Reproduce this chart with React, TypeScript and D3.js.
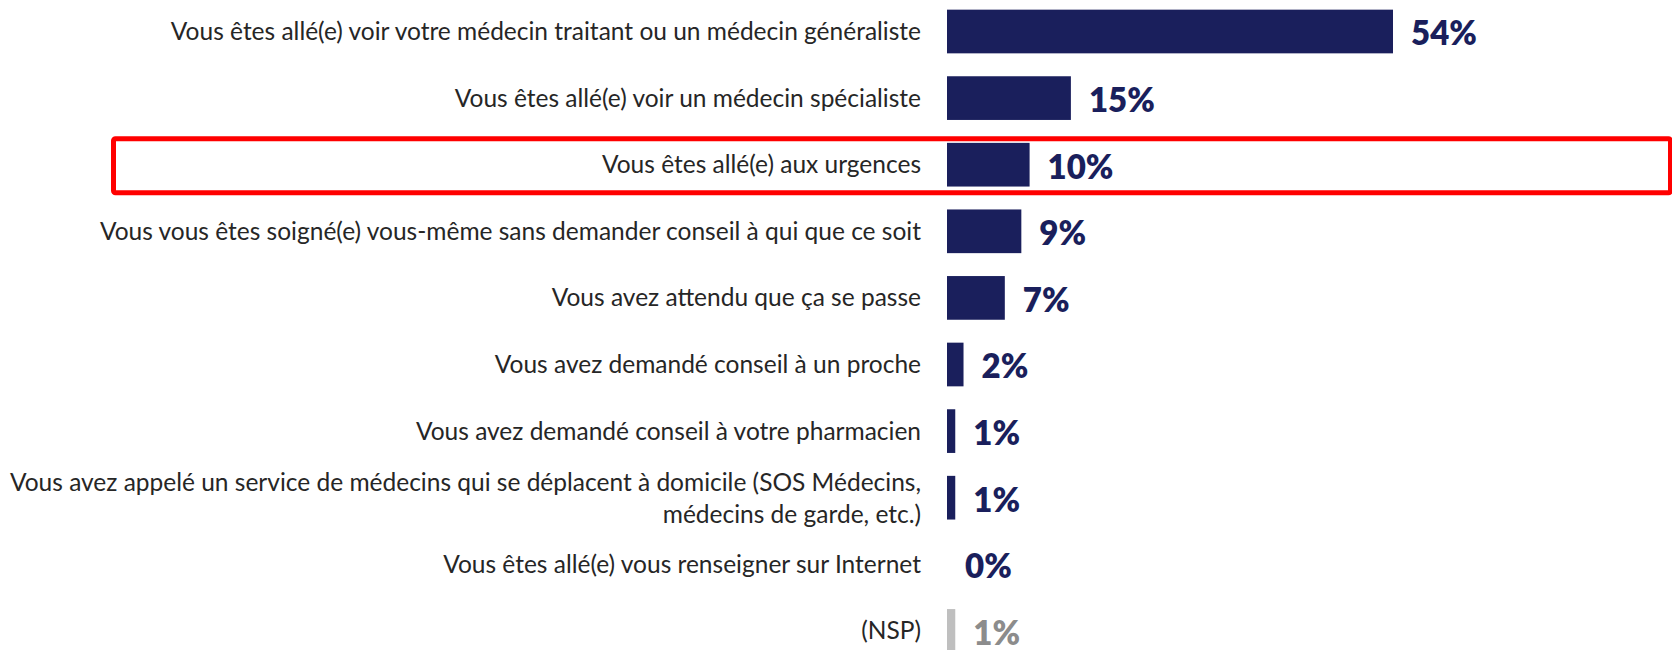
import React from "react";
import * as d3 from "d3";

const categories: string[][] = [
  ["Vous êtes allé(e) voir votre médecin traitant ou un médecin généraliste"],
  ["Vous êtes allé(e) voir un médecin spécialiste"],
  ["Vous êtes allé(e) aux urgences"],
  ["Vous vous êtes soigné(e) vous-même sans demander conseil à qui que ce soit"],
  ["Vous avez attendu que ça se passe"],
  ["Vous avez demandé conseil à un proche"],
  ["Vous avez demandé conseil à votre pharmacien"],
  ["Vous avez appelé un service de médecins qui se déplacent à domicile (SOS Médecins,", "médecins de garde, etc.)"],
  ["Vous êtes allé(e) vous renseigner sur Internet"],
  ["(NSP)"],
];
const values: number[] = [54, 15, 10, 9, 7, 2, 1, 1, 0, 1];
const valueLabels: string[] = ["54%", "15%", "10%", "9%", "7%", "2%", "1%", "1%", "0%", "1%"];
const highlightIndex = 2;

const W = 1672;
const H = 650;
const NAVY = "#1a1f5c";
const GREY_BAR = "#bfbfbf";
const GREY_TEXT = "#8c8c8c";
const FONT = "Lato, 'Open Sans', sans-serif";

export default function App() {
  const idx = categories.map((_, i) => String(i));
  const y = d3.scaleBand<string>().domain(idx).range([-1.8, 664.2]).paddingInner(0.344).paddingOuter(0.172);
  const x = d3.scaleLinear().domain([0, 54]).range([947, 1393]);
  const bw = y.bandwidth();
  const hy = (y(String(highlightIndex)) as number) + bw / 2;

  return (
    <svg width={W} height={H} style={{ position: "absolute", left: 0, top: 0, background: "#fff" }}>
      <rect x={113.5} y={hy - 26} width={1557} height={54} fill="none" stroke="#ff0000" strokeWidth={5} rx={2} />
      {categories.map((lines, i) => {
        const cy = (y(String(i)) as number) + bw / 2;
        const isNsp = i === categories.length - 1;
        const v = values[i];
        const barW = x(v) - x(0);
        return (
          <g key={i}>
            <text x={921} y={cy} textAnchor="end" fontFamily={FONT} fontSize={24.5} fill="#262626">
              {lines.map((l, j) => (
                <tspan key={j} x={921} dy={j === 0 ? `${0.35 - (lines.length - 1) * 0.63}em` : "1.3em"}>{l}</tspan>
              ))}
            </text>
            {v > 0 && (
              <rect x={x(0)} y={y(String(i))} width={barW} height={bw} fill={isNsp ? GREY_BAR : NAVY} />
            )}
            <text x={x(v) + 18} y={cy} dy="0.42em" fontFamily={FONT} fontWeight={800} fontSize={33} fill={isNsp ? GREY_TEXT : NAVY}>
              {valueLabels[i]}
            </text>
          </g>
        );
      })}
    </svg>
  );
}
